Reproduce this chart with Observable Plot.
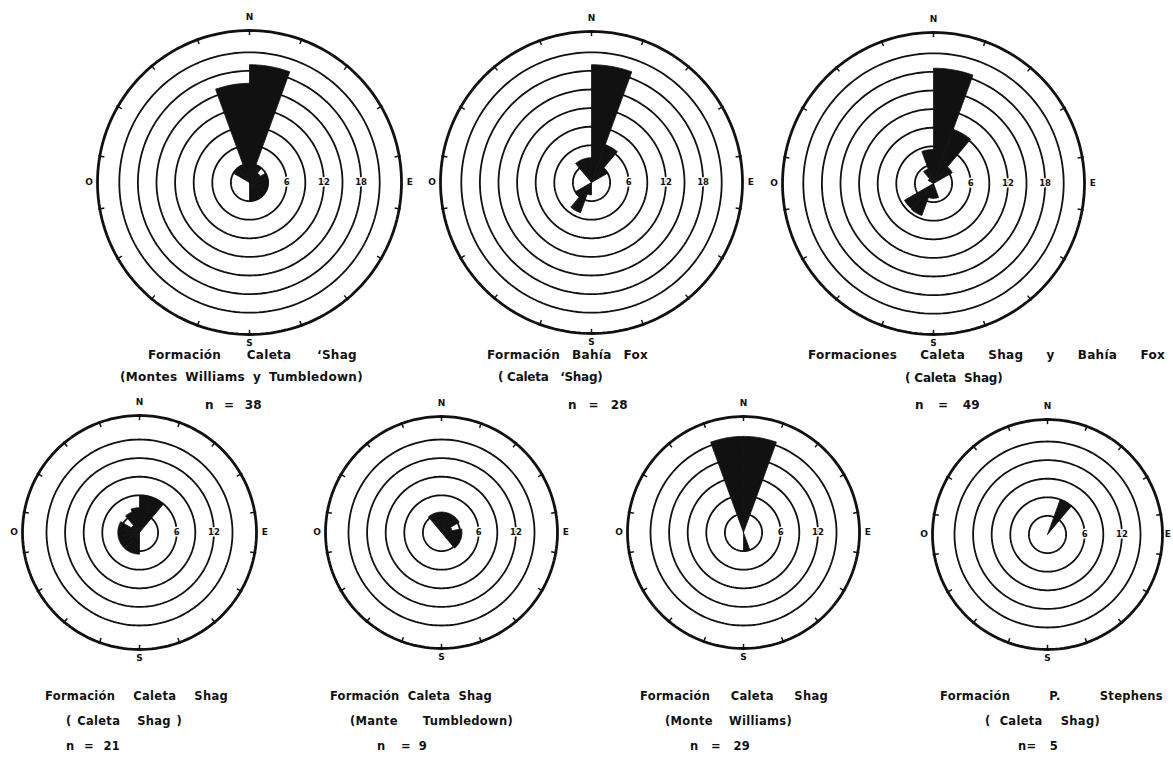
<!DOCTYPE html>
<html><head><meta charset="utf-8">
<script src="https://cdn.jsdelivr.net/npm/d3@7"></script>
<script src="https://cdn.jsdelivr.net/npm/@observablehq/plot@0.6"></script>
<style>
html,body{margin:0;padding:0;background:#fff;}
#page{position:relative;width:1173px;height:767px;overflow:hidden;background:#fff;}
.rose{position:absolute;}
.cap{position:absolute;white-space:pre;font-family:"DejaVu Sans",sans-serif;font-weight:700;color:#111;line-height:1;transform:translateY(-50%);letter-spacing:0.3px;}
</style></head><body><div id="page"></div>
<script>
// ---- data: 20-degree direction classes (start azimuth, degrees from N, clockwise)
const binStart = [0,20,40,60,80,100,120,140,160,180,200,220,240,260,280,300,320,340];
const binWidth = 20;

// petal lengths (in ring units)
const roseCaletaShagMWT   = [19,3,2,3,3,3,3,3,3,0,0,0,0,0,0,3,3,16];      // n = 38
const roseBahiaFox        = [19,6.5,3,0,0,0,0,0,0,2,5.2,3,0,0,0,0,4,4];   // n = 28
const roseCombined        = [18.6,9.3,3.5,0,0,0,0,0,2.4,2.4,5.5,5.4,0,0,0,1,2.5,5.5]; // n = 49
const roseCaletaShagCS    = [6,6,0,0,0,0,0,0,0,3.5,3.5,3.5,3.5,3.5,3.5,1.5,3.5,4]; // n = 21
const roseTumbledown      = [3.3,3.3,3.3,1.7,3.3,3.3,3.3,0,0,0,0,0,0,0,0,0,3.3,3.3]; // n = 9
const roseWilliams        = [15.5,0,0,0,0,0,0,0,3,0,0,0,0,0,0,0,0,15.5]; // n = 29
const roseStephens        = [0,6,0,0,0,0,0,0,0,0,0,0,0,0,0,0,0,0];        // n = 5

const ringsLarge = [3,6,9,12,15,18,21];
const ringsSmall = [3,6,9,12,15];
const ringLabelsLarge = [6,12,18];
const ringLabelsSmall = [6,12];
const compassLabels = ["N","E","S","O"];
const compassAngles = [0,90,180,270];
const tickAngles = [0,20,40,60,80,100,120,140,160,180,200,220,240,260,280,300,320,340];

const captions = [
  ["Formación  Caleta  ‘Shag", "(Montes Williams y Tumbledown)", "n  =  38"],
  ["Formación  Bahía  Fox", "( Caleta   ‘Shag)", "n  =  28"],
  ["Formaciones  Caleta  Shag  y  Bahía  Fox", "( Caleta  Shag)", "n  =  49"],
  ["Formación  Caleta  Shag", "( Caleta   Shag )", "n  =  21"],
  ["Formación  Caleta  Shag", "(Mante  Tumbledown)", "n  = 9"],
  ["Formación  Caleta  Shag", "(Monte  Williams)", "n  =  29"],
  ["Formación  P.  Stephens", "( Caleta  Shag)", "n= 5"]
];

// ---- layout (pixels)
const PPU = 6.2; // pixels per ring unit
const layout = [
  {values: roseCaletaShagMWT, rings: ringsLarge, labels: ringLabelsLarge, cx: 249, cy: 182, rOut: 152, size: 360, fs: 12,
   cap: [[148,357,355],[120,363,377],[205,262,405]]},
  {values: roseBahiaFox, rings: ringsLarge, labels: ringLabelsLarge, cx: 591, cy: 182, rOut: 151, size: 360, fs: 12,
   cap: [[487,648,355],[498,603,377],[568,628,405]]},
  {values: roseCombined, rings: ringsLarge, labels: ringLabelsLarge, cx: 933, cy: 183, rOut: 151, size: 360, fs: 12,
   cap: [[808,1165,355],[905,1003,378],[915,980,405]]},
  {values: roseCaletaShagCS, rings: ringsSmall, labels: ringLabelsSmall, cx: 139, cy: 532, rOut: 117, size: 290, fs: 11.5,
   cap: [[45,228,697],[66,182,722],[66,120,747]]},
  {values: roseTumbledown, rings: ringsSmall, labels: ringLabelsSmall, cx: 441, cy: 532, rOut: 116, size: 290, fs: 11.5,
   cap: [[330,492,697],[350,513,722],[377,427,747]]},
  {values: roseWilliams, rings: ringsSmall, labels: ringLabelsSmall, cx: 743, cy: 532, rOut: 116, size: 290, fs: 11.5,
   cap: [[640,828,697],[665,792,722],[690,750,747]]},
  {values: roseStephens, rings: ringsSmall, labels: ringLabelsSmall, cx: 1047, cy: 534, rOut: 115, size: 290, fs: 11.5, eOff: 0.85,
   cap: [[940,1163,697],[985,1100,722],[1018,1058,747]]}
];

const rad = a => a * Math.PI / 180;
const INK = "#111";

function rose(spec) {
  const half = spec.size / 2 / PPU;
  const R = spec.rOut / PPU;
  // petals as closed wedges built from the values
  const petals = [];
  spec.values.forEach((v, i) => {
    if (!v) return;
    const a0 = binStart[i], a1 = a0 + binWidth;
    petals.push({id: i, x: 0, y: 0});
    for (let k = 0; k <= 12; k++) {
      const a = rad(a0 + (a1 - a0) * k / 12);
      petals.push({id: i, x: v * Math.sin(a), y: v * Math.cos(a)});
    }
    petals.push({id: i, x: 0, y: 0});
  });
  const circlePts = (radii) => radii.flatMap(r => d3.range(0, 361, 2).map(a => ({r, x: r * Math.sin(rad(a)), y: r * Math.cos(rad(a))})));
  const ringPts = circlePts(spec.rings);
  const outerPts = circlePts([R]);
  const compass = compassLabels.map((t, i) => {
    const a = compassAngles[i];
    const off = a === 0 ? 2.1 : a === 180 ? 1.4 : a === 90 ? (spec.eOff || 1.35) : 1.35;
    return {t, x: (R + off) * Math.sin(rad(a)), y: (R + off) * Math.cos(rad(a))};
  });
  return Plot.plot({
    width: spec.size, height: spec.size, margin: 0,
    x: {domain: [-half, half], axis: null},
    y: {domain: [-half, half], axis: null},
    style: {background: "transparent", overflow: "visible"},
    marks: [
      Plot.line(ringPts, {x: "x", y: "y", z: "r", stroke: INK, strokeWidth: 1.8}),
      Plot.line(petals, {x: "x", y: "y", z: "id", fill: INK, stroke: INK, strokeWidth: 0.8, curve: "linear"}),
      Plot.line(outerPts, {x: "x", y: "y", stroke: INK, strokeWidth: 2.8}),
      Plot.link(tickAngles, {
        x1: a => (R - 0.75) * Math.sin(rad(a)), y1: a => (R - 0.75) * Math.cos(rad(a)),
        x2: a => (R + 0.25) * Math.sin(rad(a)), y2: a => (R + 0.25) * Math.cos(rad(a)),
        stroke: INK, strokeWidth: 1.5
      }),
      Plot.text(spec.labels, {x: d => d, y: 0, text: d => String(d), fontSize: 8.5, fontWeight: 700,
        fill: INK, stroke: "white", strokeWidth: 3, paintOrder: "stroke", fontFamily: "DejaVu Sans"}),
      Plot.text(compass, {x: "x", y: "y", text: "t", fontSize: 9, fontWeight: 700, fill: INK,
        fontFamily: "DejaVu Sans"})
    ]
  });
}

const page = document.getElementById("page");
layout.forEach((spec, i) => {
  const svg = rose(spec);
  svg.classList.add("rose");
  svg.style.left = (spec.cx - spec.size / 2) + "px";
  svg.style.top = (spec.cy - spec.size / 2) + "px";
  page.appendChild(svg);
  captions[i].forEach((line, j) => {
    const [x0, x1, y] = spec.cap[j];
    const div = document.createElement("div");
    div.className = "cap";
    div.style.fontSize = spec.fs + "px";
    div.textContent = line;
    div.style.left = x0 + "px";
    div.style.top = y + "px";
    page.appendChild(div);
    const w = div.getBoundingClientRect().width;
    const target = x1 - x0;
    const spaces = (line.match(/ /g) || []).length;
    if (target > w && spaces > 0) {
      div.style.wordSpacing = ((target - w) / spaces) + "px";
    } else if (line.length > 1) {
      div.style.letterSpacing = (0.3 + (target - w) / (line.length - 1)) + "px";
    }
  });
});
</script>
</body></html>
